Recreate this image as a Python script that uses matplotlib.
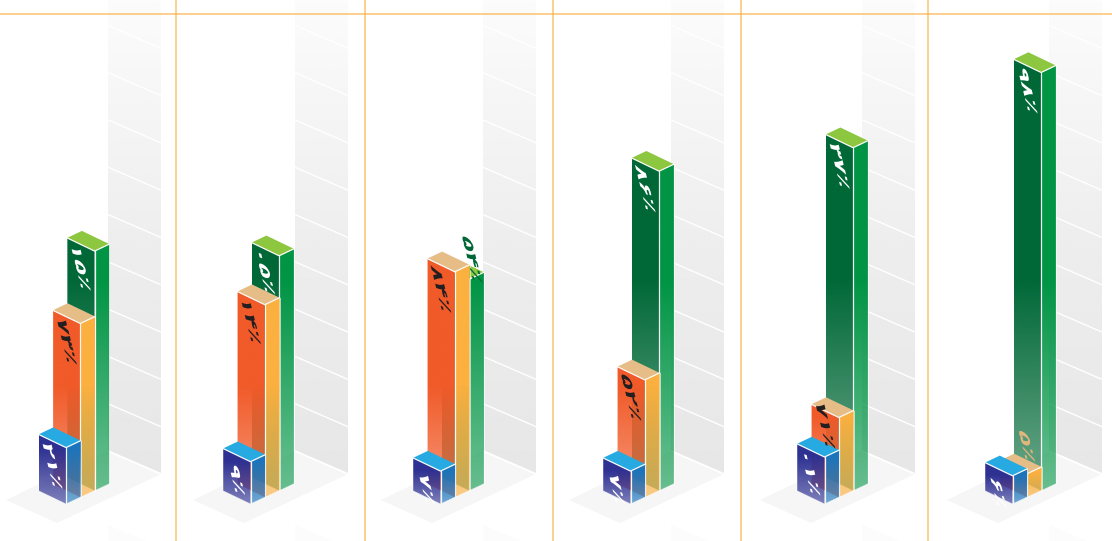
import numpy as np
import matplotlib
matplotlib.use("Agg")
import matplotlib.pyplot as plt
from matplotlib.colors import to_rgb, to_rgba
from matplotlib.patches import Polygon
from matplotlib.path import Path
from matplotlib.text import Text
from matplotlib.textpath import TextPath
from matplotlib.transforms import Affine2D

# ---- data (percent, as printed on the bars) ----
blue_values = [12, 9, 7, 7, 10, 6]
orange_values = [37, 41, 48, 25, 17, 5]
green_values = [51, 50, 45, 68, 73, 89]
grid_levels = list(range(0, 110, 10))

# ---- layout ----
W, H = 1112, 541
BAR_X = [38.5, 223, 413, 603, 797, 985]
WALL_X = [108, 295, 483, 671, 862, 1049]
DIVIDERS = [176, 365, 553, 741, 928]
RULE_Y = 14
PX_PER_UNIT = 4.7
GRID_PX_PER_UNIT = 4.73
DX1, DY1, DX2, DY2 = 27.5, 13.2, 14.8, 7.0     # left and right face of a bar
STEP_X, STEP_Y = 14.3, 6.6                      # shift between bars in depth
BASE_Y = 504.0                                  # front-bottom corner of the front bar
WALL_W, WALL_BASE, WALL_DROP = 53, 474.0, 23.0

STYLES = {
    "blue": dict(left="#2e3192", right="#1c75bc", top="#27aae1", text="white", fade=55, amin=.60),
    "orange": dict(left="#f15a29", right="#fbb040", top="#e6bd87", text="#231f20", fade=110, amin=.62),
    "green": dict(left="#006837", right="#009444", top="#8dc63f", text="white", fade=210, amin=.58),
}
FA = str.maketrans("0123456789", "۰۱۲۳۴۵۶۷۸۹")
BASELINE_DEG, UP_DEG = -76.0, -20.0             # the labels lie sheared on the bar's face
BASELINE_SCALE, UP_SCALE = 1.25, 0.78


def label(v):
    # the artwork prints the digits in reversed order, with the sign last
    return str(v).translate(FA)[::-1] + "٪"


class FaceText(Text):
    """A normal text artist, painted sheared onto the isometric face."""

    def draw(self, renderer):
        if not self.get_visible():
            return
        fp = self.get_fontproperties()
        tp = TextPath((0, 0), self.get_text(), size=fp.get_size_in_points(), prop=fp)
        ext = tp.get_extents()
        cx, cy = (ext.x0 + ext.x1) / 2, (ext.y0 + ext.y1) / 2
        s = self.figure.dpi / 72
        b = np.radians(BASELINE_DEG)
        n = np.radians(UP_DEG)
        bs, us = s * BASELINE_SCALE, s * UP_SCALE
        px, py = self.get_transform().transform(self.get_position())
        m = np.array([[np.cos(b) * bs, np.cos(n) * us, px],
                      [np.sin(b) * bs, np.sin(n) * us, py],
                      [0, 0, 1]])
        tr = Affine2D().translate(-cx, -cy) + Affine2D(m)
        gc = renderer.new_gc()
        gc.set_linewidth(0)
        gc.set_alpha(1)
        renderer.draw_path(gc, Path(tp.vertices, tp.codes), tr, to_rgba(self.get_color()))
        gc.restore()


fig = plt.figure(figsize=(W / 100, H / 100), dpi=100)
ax = fig.add_axes([0, 0, 1, 1])
ax.axis("off")


def gradient_face(pts, rgb, y_top, y_bot, alpha_fn, z):
    pts = np.array(pts)
    ys = np.linspace(y_top, y_bot, 256)
    img = np.zeros((256, 1, 4))
    img[..., :3] = rgb
    img[:, 0, 3] = alpha_fn(ys)
    im = ax.imshow(img, extent=(pts[:, 0].min(), pts[:, 0].max(), y_bot, y_top),
                   aspect="auto", zorder=z, interpolation="bilinear")
    clip = Polygon(pts, closed=True, transform=ax.transData)
    im.set_clip_path(clip)


def draw_wall(x0):
    x1 = x0 + WALL_W
    pts = [(x0, -2), (x1, -2), (x1, WALL_BASE), (x0, WALL_BASE - WALL_DROP)]
    alpha = lambda y: np.interp(y, [0, 120, 250, 480], [.12, .42, .72, 1.0])
    gradient_face(pts, to_rgb("#e7e7e7"), -2, WALL_BASE, alpha, 1)
    for lv in grid_levels:
        y = WALL_BASE - lv * GRID_PX_PER_UNIT
        ax.plot([x0, x1], [y - WALL_DROP, y], color="white", lw=1.4 if lv == 0 else 1.0,
                zorder=2, solid_capstyle="butt")
    floor = [(x1, WALL_BASE), (x0, WALL_BASE - WALL_DROP), (x0 - 102, WALL_BASE + 26), (x0 - 51, WALL_BASE + 49)]
    ax.add_patch(Polygon(floor, closed=True, fc="#f6f6f6", ec="none", zorder=1))
    ax.add_patch(Polygon([(x0, 525), (x0, 541), (x0 + 38, 541)], closed=True, fc="#fcfcfc", ec="none", zorder=1))


def draw_bar(left_x, front_bottom_y, value, st, z):
    h = value * PX_PER_UNIT
    fx = left_x + DX1
    fy_b = front_bottom_y
    fy_t = fy_b - h
    lx, ly_b, ly_t = left_x, fy_b - DY1, fy_t - DY1
    rx, ry_b, ry_t = fx + DX2, fy_b - DY2, fy_t - DY2
    fade = min(st["fade"], h)
    amin = st["amin"]

    def alpha(y):
        return np.clip(amin + (1 - amin) * (fy_b - y) / fade, amin, 1)

    gradient_face([(lx, ly_t), (fx, fy_t), (fx, fy_b), (lx, ly_b)], to_rgb(st["left"]), fy_t - DY1, fy_b, alpha, z)
    gradient_face([(fx, fy_t), (rx, ry_t), (rx, ry_b), (fx, fy_b)], to_rgb(st["right"]), ry_t, fy_b, alpha, z + .1)
    top = [(lx, ly_t), (fx, fy_t), (rx, ry_t), (rx - DX1, ry_t - DY1)]
    ax.add_patch(Polygon(top, closed=True, fc=st["top"], ec="none", zorder=z + .2))
    edge = dict(color="white", lw=.9, alpha=.95, zorder=z + .3, solid_capstyle="round")
    ax.plot([lx, fx, rx], [ly_t, fy_t, ry_t], **edge)
    ax.plot([fx, fx], [fy_t, fy_b], **edge)
    ax.plot([rx, rx], [ry_t, ry_b], color="white", lw=.7, alpha=.6, zorder=z + .3)
    ax.plot([lx, lx, fx, rx], [ly_t, ly_b, fy_b, ry_b], color="white", lw=.6, alpha=.55, zorder=z + .3)
    return (left_x + DX1 / 2, fy_t - DY1 / 2 + 24)


def put_label(xy, v, color, z):
    t = FaceText(xy[0], xy[1], label(v), color=color, fontsize=15, fontweight="bold",
                 family="DejaVu Sans", zorder=z, ha="center", va="center")
    ax.add_artist(t)


for i in range(6):
    x = BAR_X[i]
    draw_wall(WALL_X[i])
    g = draw_bar(x + 2 * STEP_X, BASE_Y - 2 * STEP_Y, green_values[i], STYLES["green"], 5)
    o = draw_bar(x + STEP_X, BASE_Y - STEP_Y, orange_values[i], STYLES["orange"], 6)
    b = draw_bar(x, BASE_Y, blue_values[i], STYLES["blue"], 7)
    # the labels that do not fit on their own front face sit just beside it
    if green_values[i] < orange_values[i]:
        top_y = BASE_Y - 2 * STEP_Y - green_values[i] * PX_PER_UNIT
        put_label((x + 2 * STEP_X + DX1 + 3, top_y - 20), green_values[i], "#006837", 9)
    else:
        put_label(g, green_values[i], "white", 9)
    if orange_values[i] < blue_values[i]:
        put_label((x + STEP_X + DX1, BASE_Y - 58), orange_values[i], "#e2b57c", 9)
    else:
        # a short orange bar leaves little room above the blue bar
        lift = 10 if orange_values[i] - blue_values[i] < 10 else 0
        put_label((o[0], o[1] - lift), orange_values[i], STYLES["orange"]["text"], 9)
    put_label(b, blue_values[i], "white", 9)

for x in DIVIDERS:
    ax.plot([x, x], [0, H], color="#fbb040", lw=1.3, alpha=.65, zorder=10, solid_capstyle="butt")
ax.plot([0, W], [RULE_Y, RULE_Y], color="#fbb040", lw=1.3, alpha=.65, zorder=10, solid_capstyle="butt")

ax.set_xlim(0, W)
ax.set_ylim(H, 0)
fig.savefig("out.png", dpi=100, facecolor="white")
